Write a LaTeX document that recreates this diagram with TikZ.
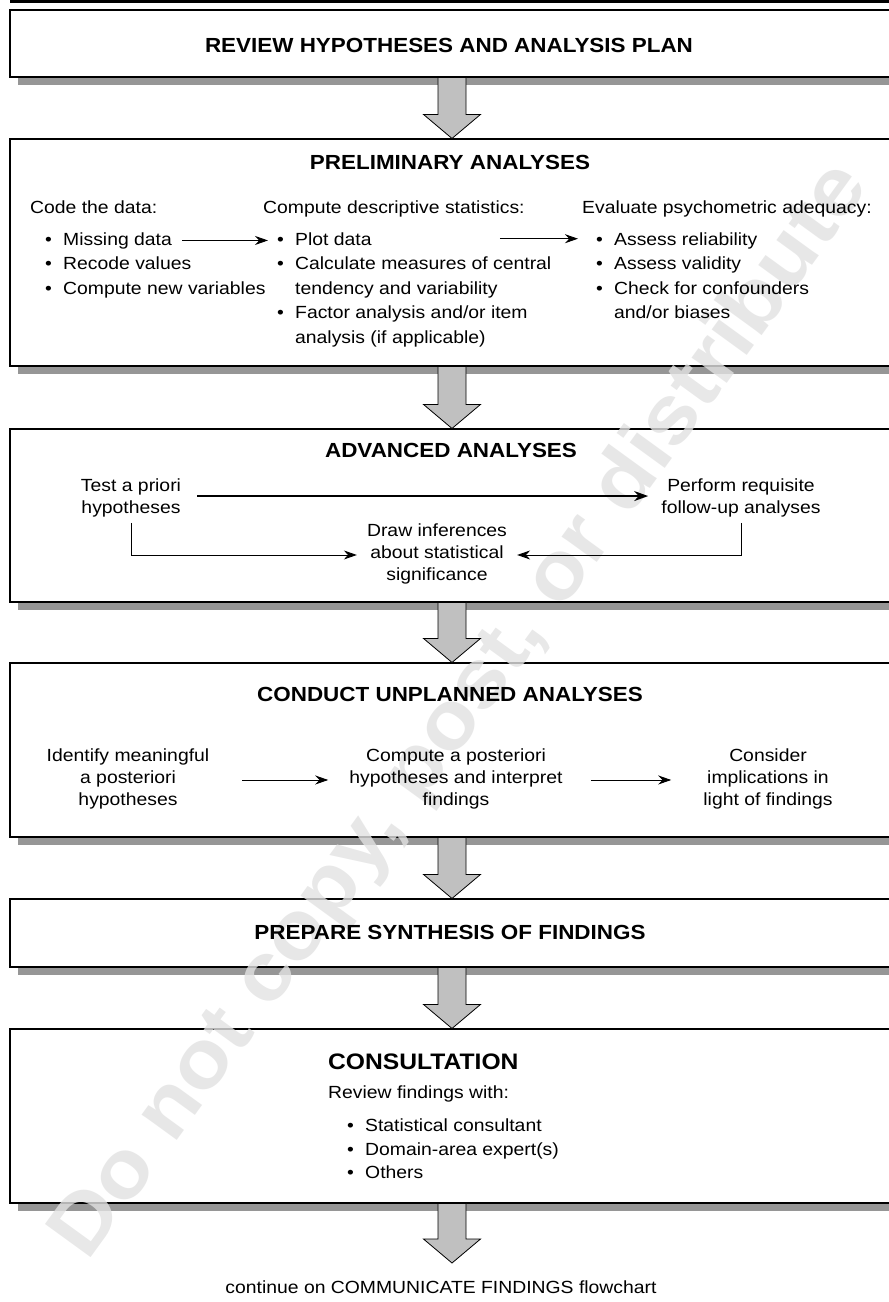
\documentclass[tikz,border=0pt]{standalone}
\usepackage{fontspec}
\setmainfont{Liberation Sans}[FakeStretch=1.1]
\usetikzlibrary{arrows.meta,shadows,calc}
\definecolor{shadowgray}{RGB}{150,150,150}
\definecolor{arrowgray}{RGB}{192,192,192}
\definecolor{markgray}{RGB}{226,226,226}
\newcommand\bul{\makebox[18pt][l]{•}}
% broad grey arrow between two stages: shaft from #1 down to the tip #2
\newcommand\blockarrow[2]{%
  \path[blockarrow] let \p1=#1, \p2=#2 in
    (\x1-14pt,\y1) -- (\x1-14pt,\y2+24pt) -- (\x1-28.5pt,\y2+24pt) -- (\x2,\y2)
    -- (\x1+28.5pt,\y2+24pt) -- (\x1+14pt,\y2+24pt) -- (\x1+14pt,\y1) -- cycle;}
\begin{document}
\begin{tikzpicture}[x=1pt,y=-1pt,
  stage/.style={draw=black, line width=1.1pt, fill=white, minimum width=884pt, inner sep=0pt,
    drop shadow={shadow xshift=8pt, shadow yshift=-8pt, fill=shadowgray, opacity=1}},
  head/.style={font=\fontsize{20.4}{24}\selectfont\bfseries, inner sep=0pt, anchor=base},
  body/.style={font=\fontsize{17.6}{22}\selectfont, inner sep=0pt, anchor=base west},
  ctext/.style={font=\fontsize{17.6}{22}\selectfont, align=center, inner sep=0pt, anchor=north,
    execute at begin node=\strut},
  blockarrow/.style={fill=arrowgray, draw=black, line width=0.8pt, line join=miter},
  thinarrow/.style={line width=0.9pt, -{Stealth[length=13pt,width=9pt]}},
  thickarrow/.style={line width=1.8pt, -{Stealth[length=14pt,width=10pt]}},
  watermark/.style={font=\fontsize{82}{82}\selectfont\bfseries, text=markgray, opacity=0.8,
    inner sep=0pt, rotate=54}]
\useasboundingbox (0,0) rectangle (889,1302);
\clip (0,0) rectangle (889,1302);

% rule closing the previous chart
\fill[black] (10,0) rectangle (894,2.5);

% stage frames
\node[stage, minimum height=67pt]  (b1) at (452,43.5)  {};
\node[stage, minimum height=227pt] (b2) at (452,252.5) {};
\node[stage, minimum height=173pt] (b3) at (452,515.5) {};
\node[stage, minimum height=174pt] (b4) at (452,750)   {};
\node[stage, minimum height=68pt]  (b5) at (452,933)   {};
\node[stage, minimum height=174pt] (b6) at (452,1116)  {};
\coordinate (endtip) at (452,1263);

% notice across the page
\node[watermark] (wm) at (462,712) {Do not copy, post, or distribute};

% flow between stages
\blockarrow{(b1.south)}{(b2.north)}
\blockarrow{(b2.south)}{(b3.north)}
\blockarrow{(b3.south)}{(b4.north)}
\blockarrow{(b4.south)}{(b5.north)}
\blockarrow{(b5.south)}{(b6.north)}
\blockarrow{(b6.south)}{(endtip)}

% stage 1
\node[head] (t1) at (449,52) {REVIEW HYPOTHESES AND ANALYSIS PLAN};

% stage 2
\node[head] (t2) at (450,169) {PRELIMINARY ANALYSES};
\node[body] (h1) at (30,213) {Code the data:};
\node[body] (l1a) at (45,245)   {\bul Missing data};
\node[body] (l1b) at (45,269.5) {\bul Recode values};
\node[body] (l1c) at (45,294)   {\bul Compute new variables};
\node[body] (h2) at (263,213) {Compute descriptive statistics:};
\node[body] (l2a) at (277,245)   {\bul Plot data};
\node[body] (l2b) at (277,269.5) {\bul Calculate measures of central};
\node[body] (l2c) at (295,294)   {tendency and variability};
\node[body] (l2d) at (277,318.5) {\bul Factor analysis and/or item};
\node[body] (l2e) at (295,343)   {analysis (if applicable)};
\node[body] (h3) at (582,213) {Evaluate psychometric adequacy:};
\node[body] (l3a) at (596,245)   {\bul Assess reliability};
\node[body] (l3b) at (596,269.5) {\bul Assess validity};
\node[body] (l3c) at (596,294)   {\bul Check for confounders};
\node[body] (l3d) at (614,318.5) {and/or biases};
\draw[thinarrow, shorten <=10pt, shorten >=9pt] (l1a.east) -- (l1a.east -| l2a.west);
\draw[thinarrow, shorten <=128pt, shorten >=18pt] (l2a.east) -- (l2a.east -| l3a.west);

% stage 3
\node[head] (t3) at (451,457.5) {ADVANCED ANALYSES};
\node[ctext] (a1) at (131,478.1) {Test a priori\\hypotheses};
\node[ctext] (a2) at (741,478.1) {Perform requisite\\follow-up analyses};
\node[ctext] (a3) at (437,523.1) {Draw inferences\\about statistical\\significance};
\coordinate (a1r) at ($(a1.north east)!0.43!(a1.south east)$);
\draw[thickarrow, shorten <=16pt, shorten >=13pt] (a1r) -- (a1r -| a2.west);
\draw[thinarrow, shorten >=10pt] ([yshift=-3pt]a1.south) |- (a3.west);
\draw[thinarrow, shorten >=10pt] ([yshift=-3pt]a2.south) |- (a3.east);

% stage 4
\node[head] (t4) at (450,701.5) {CONDUCT UNPLANNED ANALYSES};
\node[ctext] (d1) at (128,748.1) {Identify meaningful\\a posteriori\\hypotheses};
\node[ctext] (d2) at (456,748.1) {Compute a posteriori\\hypotheses and interpret\\findings};
\node[ctext] (d3) at (768,748.1) {Consider\\implications in\\light of findings};
\draw[thinarrow, shorten <=33pt, shorten >=21pt] (d1.east) -- (d1.east -| d2.west);
\draw[thinarrow, shorten <=28pt, shorten >=32pt] (d2.east) -- (d2.east -| d3.west);

% stage 5
\node[head] (t5) at (450,939.5) {PREPARE SYNTHESIS OF FINDINGS};

% stage 6
\node[font=\fontsize{22.4}{26}\selectfont\bfseries, inner sep=0pt, anchor=base west] (t6) at (328,1069) {CONSULTATION};
\node[body] (r0) at (328,1098.5) {Review findings with:};
\node[body] (r1) at (347,1131.5) {\bul Statistical consultant};
\node[body] (r2) at (347,1155)   {\bul Domain-area expert(s)};
\node[body] (r3) at (347,1178.5) {\bul Others};

% pointer to the next chart
\node[body, anchor=base] (next) at (441,1293.5) {continue on COMMUNICATE FINDINGS flowchart};
\end{tikzpicture}
\end{document}
